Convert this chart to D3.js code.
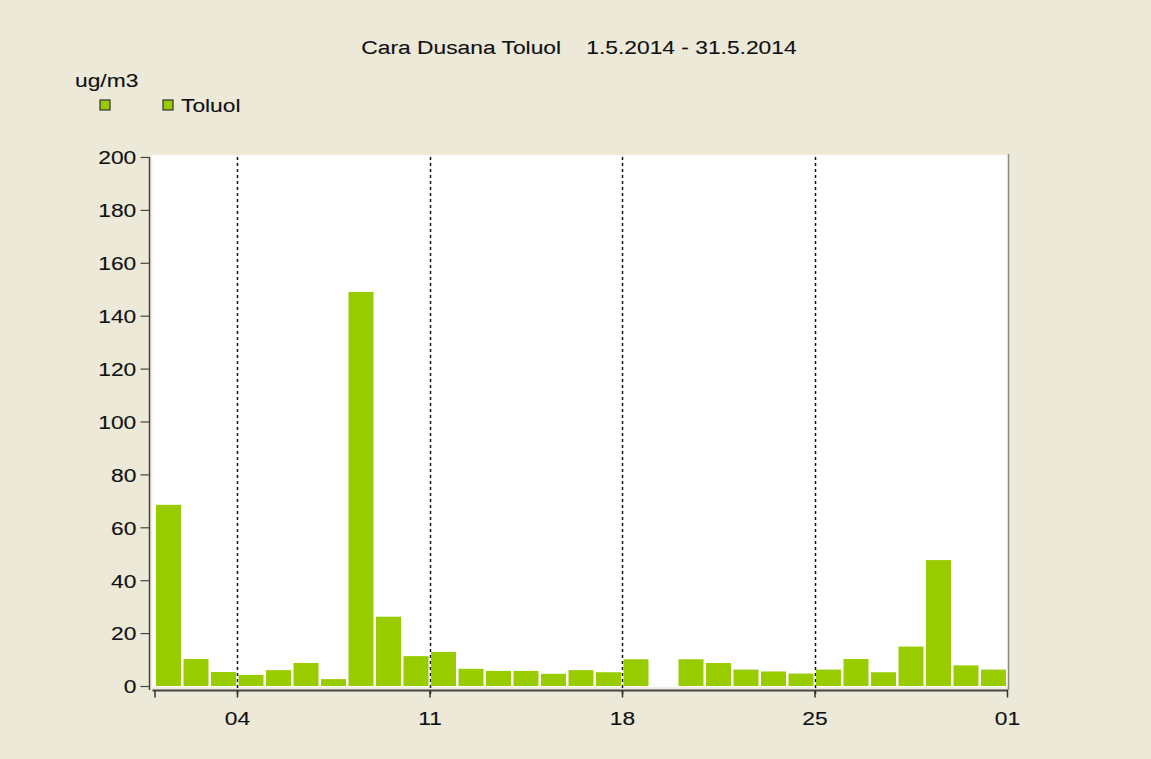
<!DOCTYPE html>
<html>
<head>
<meta charset="utf-8">
<script src="https://cdn.jsdelivr.net/npm/d3@7"></script>
<style>
  html, body { margin: 0; padding: 0; background: #ece9d8; }
  svg { display: block; }
  text { font-family: "Liberation Sans", Arial, sans-serif; fill: #111; stroke: #111; stroke-width: 0.12px; }
</style>
</head>
<body>
<svg width="1151" height="759"></svg>
<script>
'use strict';
// daily values, 1.5.2014 - 31.5.2014 (null = no data)
const days = d3.range(1, 32);
const toluol = [68.5, 10.2, 5.3, 4.2, 6.0, 8.7, 2.6, 149, 26.2, 11.3,
  12.9, 6.5, 5.7, 5.7, 4.6, 6.0, 5.2, 10.1, null, 10.1,
  8.7, 6.2, 5.5, 4.7, 6.2, 10.2, 5.2, 14.9, 47.6, 7.8, 6.2];
const yTicks = d3.range(0, 201, 20);
const xTickDays = [4, 11, 18, 25];
const title = 'Cara Dusana Toluol    1.5.2014 - 31.5.2014';
const unit = 'ug/m3';
const seriesName = 'Toluol';
const BAR = '#99cc00';
const FS = '19px';
const SX = 1.2; // text in the original is a bit stretched sideways

const svg = d3.select('svg');
const plot = { left: 152, right: 1006, top: 157, bottom: 687 };

const x = d3.scaleTime()
  .domain([new Date(2014, 4, 1), new Date(2014, 5, 1)])
  .range([154.5, 1007]);
const y = d3.scaleLinear().domain([0, 200]).range([686, 157]);

function label(tx, ty, str, anchor) {
  return svg.append('text')
    .attr('transform', `translate(${tx},${ty}) scale(${SX},1)`)
    .attr('text-anchor', anchor || 'start')
    .attr('xml:space', 'preserve')
    .style('font-size', FS)
    .text(str);
}

// plot background with sunken border
svg.append('rect')
  .attr('x', plot.left).attr('y', plot.top - 2)
  .attr('width', plot.right - plot.left + 2).attr('height', plot.bottom - plot.top + 2)
  .attr('fill', '#fff').attr('stroke', '#f8f8f4').attr('stroke-width', 1);
svg.append('line')
  .attr('x1', plot.right + 2.5).attr('x2', plot.right + 2.5)
  .attr('y1', plot.top - 3).attr('y2', plot.bottom + 3)
  .attr('stroke', '#8a8a80').attr('stroke-width', 1.5);

// dashed grid lines
svg.append('g').selectAll('line').data(xTickDays).join('line')
  .attr('x1', d => Math.round(x(new Date(2014, 4, d))) + 0.5)
  .attr('x2', d => Math.round(x(new Date(2014, 4, d))) + 0.5)
  .attr('y1', plot.top).attr('y2', 697)
  .attr('stroke', '#111').attr('stroke-width', 1.5)
  .attr('stroke-dasharray', '3,3');

// bars
svg.append('g').selectAll('rect')
  .data(days.map((d, i) => ({ day: d, v: toluol[i] })).filter(d => d.v != null))
  .join('rect')
  .attr('x', d => x(new Date(2014, 4, d.day)) + 1.5)
  .attr('width', d => x(new Date(2014, 4, d.day + 1)) - x(new Date(2014, 4, d.day)) - 2.5)
  .attr('y', d => y(d.v))
  .attr('height', d => y(0) - y(d.v))
  .attr('fill', BAR);

// y axis
const yAxis = svg.append('g')
  .attr('transform', 'translate(149.5,0)')
  .call(d3.axisLeft(y).tickValues(yTicks).tickSize(9).tickPadding(2));
yAxis.select('.domain').attr('stroke', '#444').attr('stroke-width', 1.5)
  .attr('d', `M0,${y(200)}V${y(0) + 4}`);
yAxis.selectAll('.tick line').attr('stroke', '#444').attr('stroke-width', 1.2);
yAxis.selectAll('.tick text').style('font-size', FS)
  .attr('fill', '#111').attr('dy', '0.36em')
  .attr('transform', `scale(${SX},1)`);

// x axis
const xTicks = [new Date(2014, 4, 1)].concat(xTickDays.map(d => new Date(2014, 4, d)), [new Date(2014, 5, 1)]);
const xAxis = svg.append('g')
  .attr('transform', 'translate(0,690.5)')
  .call(d3.axisBottom(x).tickValues(xTicks).tickSize(7).tickPadding(14)
    .tickFormat((d, i) => i === 0 ? '' : d3.timeFormat('%d')(d)));
xAxis.select('.domain').attr('stroke', '#444').attr('stroke-width', 2)
  .attr('d', `M${x(xTicks[0]) - 2},0H${x(xTicks[xTicks.length - 1]) + 1}`);
xAxis.selectAll('.tick line').attr('stroke', '#333').attr('stroke-width', 1.5);
xAxis.selectAll('.tick text').style('font-size', FS).attr('fill', '#111')
  .attr('transform', `scale(${SX},1)`);

// title, unit, legend
label(579, 54, title, 'middle');
label(75, 87, unit);
[105, 168].forEach(cx => {
  svg.append('rect').attr('x', cx - 5).attr('y', 100)
    .attr('width', 10).attr('height', 10)
    .attr('fill', BAR).attr('stroke', '#333').attr('stroke-width', 1.2);
});
label(181, 112, seriesName);
</script>
</body>
</html>
